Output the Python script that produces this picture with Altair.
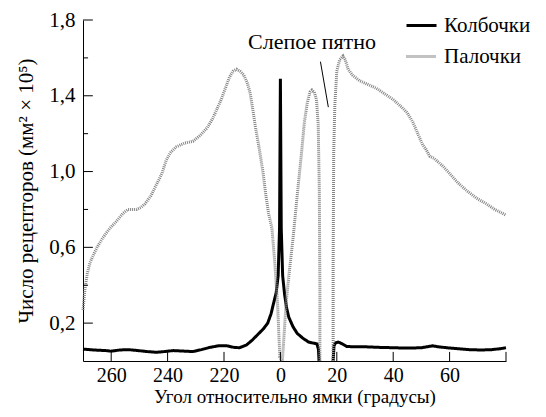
import altair as alt
import pandas as pd

# --- data ---
rod_x = [-70, -69.3, -68.5, -67.5, -66, -65, -63, -60.5, -58, -55.8, -54, -51, -49.5, -48, -46, -44, -42,
         -40.5, -39, -37, -34, -31, -28.5, -26, -24, -22.5, -21, -19.5, -18, -16.8, -15.5, -14.3, -13,
         -11.8, -10.8, -9.8, -8.8, -7.5, -6.2, -5.2, -4.2, -3, -2, -1, -0.2, 0.7, 2, 3, 4.5, 6, 7.5, 8.5,
         9.5, 10.5, 11.2, 12, 12.8, 13.4, 13.8, 14, 14,
         18.7, 18.7, 18.9, 19.3, 20, 21, 22.2, 23, 24, 25.5,
         28, 31, 34, 37, 40, 43, 45, 47, 49, 50.5, 51.5, 53, 54.5, 56, 57.5, 60, 63, 66, 69.5, 73, 76, 80]
rod_y = [0.27, 0.38, 0.46, 0.52, 0.57, 0.60, 0.65, 0.70, 0.74, 0.78, 0.80, 0.80, 0.81, 0.83, 0.87, 0.93, 0.99,
         1.06, 1.10, 1.13, 1.15, 1.16, 1.19, 1.23, 1.28, 1.33, 1.38, 1.44, 1.50, 1.53, 1.54, 1.53, 1.51,
         1.47, 1.42, 1.33, 1.23, 1.12, 1.00, 0.88, 0.78, 0.70, 0.52, 0.30, 0.02, 0.0, 0.30, 0.45, 0.65, 0.88, 1.10, 1.26,
         1.36, 1.42, 1.43, 1.42, 1.38, 1.25, 0.90, 0.40, 0.0,
         0.0, 0.50, 1.10, 1.35, 1.53, 1.59, 1.61, 1.59, 1.54, 1.51,
         1.48, 1.46, 1.44, 1.41, 1.38, 1.34, 1.31, 1.26, 1.19, 1.14, 1.12, 1.08, 1.07, 1.05, 1.03, 0.99, 0.94, 0.90,
         0.86, 0.83, 0.80, 0.77]
rod_break = 61  # points before the blind spot gap

cone_x = [-70, -66, -62, -60, -57, -54, -51, -47.5, -44, -41, -38, -34, -31, -28, -25, -22, -19, -16.5, -14.5,
          -12, -10, -8, -6, -4.5, -3.3, -2.5, -1.5, -0.8, -0.3, 0, 0.3, 0.8, 1.5, 2.2, 3, 4.5, 6, 8, 10, 11.5,
          13, 13.5, 13.7,
          18.7, 19, 19.5, 20.5, 22, 23.5, 26, 30, 35, 40, 45, 50, 52, 54, 56, 59, 63, 67, 71,
          75, 78, 80]
cone_y = [0.063, 0.058, 0.055, 0.052, 0.058, 0.060, 0.056, 0.050, 0.046, 0.050, 0.055, 0.052, 0.050, 0.060,
          0.072, 0.080, 0.080, 0.072, 0.070, 0.085, 0.11, 0.14, 0.17, 0.20, 0.25, 0.30, 0.36, 0.45, 0.70, 1.49,
          0.70, 0.45, 0.35, 0.28, 0.23, 0.18, 0.145, 0.12, 0.10, 0.095, 0.09, 0.06, 0.0,
          0.0, 0.08, 0.095,
          0.10, 0.09, 0.077, 0.075, 0.075, 0.072, 0.070, 0.068, 0.070, 0.075, 0.080, 0.075, 0.070, 0.065,
          0.060, 0.058, 0.060, 0.065, 0.070]
cone_break = 43

series_names = ["Колбочки", "Палочки"]

xtick_values = [-60, -40, -20, 0, 20, 40, 60]
xtick_labels = ["260", "240", "220", "0", "20", "40", "60"]
xtick_marks = [-60, -40, -20, 0, 20, 40, 60, 80]
ytick_major = [0.2, 0.6, 1.0, 1.4, 1.8]
ytick_minor = [0.4, 0.8, 1.2, 1.6]

annot_text = ["Слепое пятно"]
annot_x = [11.2]
annot_y = [1.684]
pointer_x = [14.2]
pointer_y = [1.58]
pointer_x2 = [17.0]
pointer_y2 = [1.34]

x_title = "Угол относительно ямки (градусы)"
y_title = "Число рецепторов (мм² × 10⁵)"

FONT = "Liberation Serif"
XMIN, XMAX = -70, 80
YMIN, YMAX = 0, 1.8

# --- build tables ---
rows = []
for i, (x, y) in enumerate(zip(cone_x, cone_y)):
    rows.append({"x": x, "y": y, "s": series_names[0], "o": i, "seg": "c%d" % (i >= cone_break)})
for i, (x, y) in enumerate(zip(rod_x, rod_y)):
    rows.append({"x": x, "y": y, "s": series_names[1], "o": i, "seg": "r%d" % (i >= rod_break)})
df = pd.DataFrame(rows)

label_expr = " : ".join(
    f"datum.value == {v} ? '{l}'" for v, l in zip(xtick_values, xtick_labels)
) + " : ''"

xscale = alt.Scale(domain=[XMIN, XMAX], nice=False, zero=False)
yscale = alt.Scale(domain=[YMIN, YMAX], nice=False, zero=False)

leg = alt.Legend(title=None, orient="none", legendX=322, legendY=-11,
                 symbolType="stroke", symbolSize=900, symbolStrokeWidth=3,
                 labelFont=FONT, labelFontSize=21, labelColor="black",
                 labelOffset=6, rowPadding=4)

lines = alt.Chart(df).mark_line(strokeWidth=3, strokeCap="butt").encode(
    x=alt.X("x:Q", scale=xscale,
            axis=alt.Axis(values=xtick_values, labelExpr=label_expr, ticks=False, grid=False,
                          title=x_title, labelPadding=4, titlePadding=2,
                          labelFontSize=20, titleFontSize=19)),
    y=alt.Y("y:Q", scale=yscale,
            axis=alt.Axis(values=ytick_major, ticks=False, grid=False,
                          labelExpr="replace(format(datum.value, '.1f'), '.', ',')",
                          title=y_title, labelPadding=8, titlePadding=12)),
    color=alt.Color("s:N", scale=alt.Scale(domain=series_names, range=["#000000", "#858585"]), legend=leg),
    strokeDash=alt.StrokeDash("s:N", scale=alt.Scale(domain=series_names, range=[[1, 0], [1, 1]]), legend=leg),
    detail="seg:N",
    order="o:Q",
)

xt = pd.DataFrame({"x": xtick_marks})
xticks = alt.Chart(xt).mark_rule(color="black", strokeWidth=1).encode(
    x=alt.X("x:Q", scale=xscale),
    y=alt.datum(0),
    y2=alt.datum(0.048),
)

ytM = pd.DataFrame({"y": ytick_major})
yticksM = alt.Chart(ytM).mark_rule(color="black", strokeWidth=1).encode(
    y=alt.Y("y:Q", scale=yscale),
    x=alt.datum(XMIN),
    x2=alt.datum(XMIN + 3.5),
)
ytm = pd.DataFrame({"y": ytick_minor})
yticksm = alt.Chart(ytm).mark_rule(color="black", strokeWidth=1).encode(
    y=alt.Y("y:Q", scale=yscale),
    x=alt.datum(XMIN),
    x2=alt.datum(XMIN + 1.8),
)

ann = alt.Chart(pd.DataFrame({"t": annot_text, "x": annot_x, "y": annot_y})).mark_text(
    font=FONT, fontSize=22, color="black", align="center", baseline="middle"
).encode(x=alt.X("x:Q", scale=xscale), y=alt.Y("y:Q", scale=yscale), text="t:N")

ptr = alt.Chart(pd.DataFrame({"x": pointer_x, "y": pointer_y, "x2": pointer_x2, "y2": pointer_y2})).mark_rule(
    color="black", strokeWidth=1
).encode(x=alt.X("x:Q", scale=xscale), y=alt.Y("y:Q", scale=yscale), x2="x2:Q", y2="y2:Q")

chart = alt.layer(lines, xticks, yticksM, yticksm, ann, ptr).properties(
    width=423, height=341,
    autosize=alt.AutoSizeParams(type="none"),
    padding={"left": 75, "top": 12, "right": 32, "bottom": 48},
    background="white",
).configure_view(stroke=None).configure_axis(
    domainColor="black", domainWidth=1, labelFont=FONT, titleFont=FONT,
    labelFontSize=21, titleFontSize=21, labelColor="black", titleColor="black",
    titleFontWeight="normal",
)

chart.save("out.html", embed_options={"renderer": "svg", "actions": False})
